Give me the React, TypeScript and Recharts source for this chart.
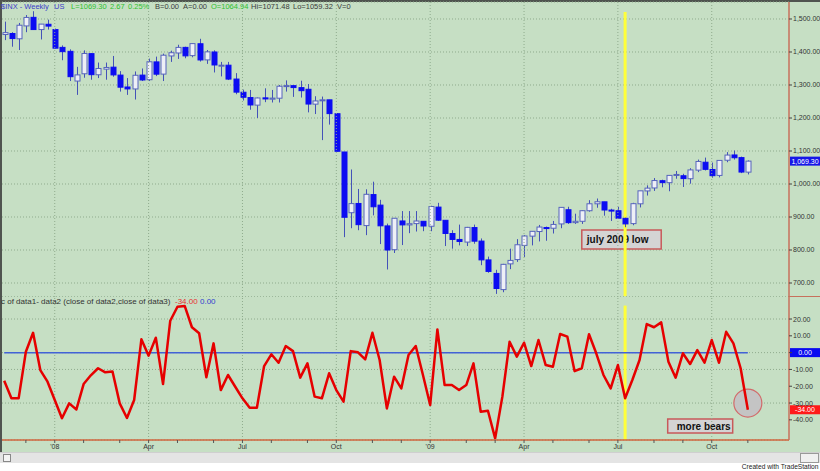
import React from "react";
import {
  ComposedChart,
  LineChart,
  Bar,
  Line,
  XAxis,
  YAxis,
  CartesianGrid,
  ReferenceLine,
  ReferenceArea,
  ReferenceDot,
} from "recharts";

const FONT = "'Liberation Sans', Arial, sans-serif";
const GREEN = "#c6dfc4";
const GRID = "#8fab8d";
const AXIS_RED = "#c7705c";
const WICK = "#4452b8";
const UP_FILL = "#eef0f6";
const UP_STROKE = "#5664bc";
const DOWN_FILL = "#0c0cf2";
const TICK = { fill: "#333", fontSize: 7, fontFamily: FONT };

// weekly bars, first one ends Fri 2007-11-16
const WEEK_START = Date.UTC(2007, 10, 16);

const OPEN = [
  1453, 1456, 1440, 1479, 1505, 1468, 1484, 1468, 1414, 1402, 1312, 1334, 1395, 1331, 1348, 1354,
  1330, 1294, 1288, 1330, 1316, 1370, 1333, 1388, 1397, 1414, 1389, 1425, 1376, 1400, 1360, 1360,
  1318, 1278, 1262, 1239, 1261, 1257, 1260, 1296, 1298, 1292, 1287, 1242, 1252, 1255, 1213, 1097,
  913, 941, 874, 968, 936, 873, 801, 888, 876, 880, 887, 872, 930, 890, 850, 832,
  824, 868, 827, 770, 729, 680, 758, 771, 814, 842, 856, 868, 866, 879, 922, 883,
  887, 919, 940, 946, 921, 919, 896, 880, 940, 979, 988, 1010, 1004, 1026, 1025, 1016,
  1042, 1066, 1044, 1026, 1072, 1088, 1080, 1036,
];
const HIGH = [
  1492, 1460, 1488, 1512, 1523.6, 1485, 1498, 1471, 1420, 1408, 1355, 1405, 1396, 1368, 1368, 1388,
  1342, 1321, 1341, 1350, 1380, 1386, 1395, 1404, 1422, 1416, 1426, 1440, 1406, 1405, 1370, 1370,
  1336, 1286, 1285, 1262, 1290, 1285, 1300, 1314, 1300, 1313, 1303, 1266, 1265, 1255, 1215, 1097,
  1044, 985, 984, 1007, 952, 880, 897, 918, 918, 918, 887, 934, 943, 890, 860, 877,
  870, 877, 835, 780, 740, 758, 804, 833, 845, 857, 876, 871, 888, 930, 931, 910,
  920, 951, 956, 946, 925, 931, 898, 943, 979, 996, 1018, 1013, 1027, 1039.5, 1031, 1048,
  1074, 1080, 1065, 1071.5, 1096.6, 1101.4, 1083, 1071.5,
];
const LOW = [
  1436, 1416, 1406, 1460, 1467, 1438, 1468, 1411, 1375, 1312, 1270, 1322, 1316, 1321, 1316, 1325,
  1280, 1270, 1256, 1312, 1312, 1327, 1312, 1370, 1379, 1381, 1384, 1371, 1364, 1338, 1326, 1315,
  1272, 1253, 1225, 1200, 1248, 1247, 1247, 1280, 1264, 1262, 1217, 1212, 1133, 1180, 1098, 839,
  866, 860, 845, 905, 818, 741, 791, 815, 851, 856, 857, 857, 888, 812, 804, 814,
  812, 819, 754, 731, 667, 672, 742, 764, 779, 814, 826, 828, 850, 866, 879, 879,
  879, 916, 928, 904, 888, 895, 869, 875, 929, 965, 979, 990, 978, 1016, 991, 1001,
  1036, 1041, 1019, 1020, 1066, 1074, 1033, 1029,
];
const CLOSE = [
  1458.7, 1440.7, 1481.1, 1504.7, 1468.0, 1484.5, 1478.5, 1411.6, 1401.0, 1325.2, 1330.6, 1395.4,
  1331.3, 1350.0, 1353.1, 1330.6, 1293.4, 1288.1, 1329.5, 1315.2, 1370.4, 1332.8, 1390.3, 1397.8,
  1413.9, 1388.3, 1425.4, 1375.9, 1400.4, 1360.7, 1360.0, 1317.9, 1278.4, 1262.9, 1239.5, 1260.7,
  1257.8, 1260.3, 1296.3, 1298.2, 1292.2, 1282.8, 1242.3, 1251.7, 1255.1, 1213.3, 1099.2, 899.2,
  940.6, 876.8, 968.8, 931.0, 873.3, 800.0, 896.2, 876.1, 879.7, 887.9, 872.8, 931.8,
  890.4, 850.1, 832.0, 825.9, 868.6, 826.8, 770.1, 735.1, 683.4, 756.6, 768.5, 815.9,
  842.5, 856.6, 869.6, 866.2, 877.5, 929.2, 882.9, 887.0, 919.1, 940.1, 946.2, 921.2,
  918.9, 896.4, 879.1, 940.4, 979.3, 987.5, 1010.5, 1004.1, 1026.1, 1028.9, 1016.4, 1042.7,
  1068.3, 1044.4, 1025.2, 1071.5, 1087.7, 1079.6, 1036.2, 1069.3,
];
// data1 - data2 oscillator
const OSC = [
  -16.7, -27.2, -27.2, 0.5, 11.8, -10.4, -17.3, -28.2, -39.1, -30.2,
  -33.8, -18.7, -13.5, -9.3, -11.7, -11.2, -30.2, -38.9, -28.2, 7.9,
  -1.8, 8.9, -18.7, 19.0, 27.3, 27.8, 15.1, 11.5, -14.7, 5.5,
  -22.3, -13.3, -20.3, -27.2, -32.8, -32.8, -8.0, -1.0, -6.0, 3.9,
  0.9, -14.9, -6.4, -26.2, -27.2, -12.3, -22.3, -29.2, 0.9, 0.2,
  -4.0, 11.8, -4.4, -33.2, -14.3, -21.3, -1.4, 3.9, -13.3, -31.2,
  13.8, -19.3, -19.3, -22.3, -19.3, -6.4, -35.2, -34.6, -51.0, -26.2,
  6.5, -2.4, 5.9, -8.0, 7.5, -7.4, -8.4, 11.1, 9.5, -11.0,
  -9.3, 10.9, -0.4, -13.3, -21.3, -7.4, -27.2, -16.3, -4.4, 17.0,
  15.1, 18.0, -5.4, -14.9, -0.4, -6.8, 1.5, -6.0, 7.5, -6.0,
  12.4, 5.5, -9.3, -34.0,
];

const PRICE_TICKS = [700, 800, 900, 1000, 1100, 1200, 1300, 1400, 1500];
const OSC_TICKS = [-40, -30, -20, -10, 0, 10, 20];
const QUARTER_NAMES: Record<number, string> = { 3: "Apr", 6: "Jul", 9: "Oct" };
const JULY_LOW = 86;

const X_DOMAIN = [-0.305, 108.7];

const weekDate = (i: number) => new Date(WEEK_START + i * 7 * 86400000);
const MONTH_STARTS = OPEN.map((_, i) => i).filter(
  (i) => i > 0 && weekDate(i).getUTCMonth() !== weekDate(i - 1).getUTCMonth()
);
const QUARTER_STARTS = MONTH_STARTS.filter((i) => weekDate(i).getUTCMonth() % 3 === 0);
const monthLabel = (i: number) => {
  const d = weekDate(i);
  const m = d.getUTCMonth();
  if (m === 0) return "'" + String(d.getUTCFullYear()).slice(2);
  return QUARTER_NAMES[m] ?? "";
};

const candles = OPEN.map((o, i) => ({
  i,
  open: o,
  high: HIGH[i],
  low: LOW[i],
  close: CLOSE[i],
  range: [LOW[i], HIGH[i]],
}));
const osc = OSC.map((v, i) => ({ i, osc: v, zero: 0 }));

const fmtPrice = (v: number) =>
  v.toLocaleString("en-US", { minimumFractionDigits: 2, maximumFractionDigits: 2 });

function Candle(props: any) {
  const { x, y, width, height, payload } = props;
  if (!payload) return null;
  const { open, close, high, low } = payload;
  const k = high > low ? height / (high - low) : 0;
  const cx = Math.round(x + width / 2) + 0.5;
  const yO = y + (high - open) * k;
  const yC = y + (high - close) * k;
  const up = close >= open;
  const top = Math.min(yO, yC);
  const h = Math.max(Math.abs(yC - yO), 1);
  return (
    <g>
      <line x1={cx} x2={cx} y1={y} y2={y + height} stroke={WICK} strokeWidth={1} />
      <rect
        x={cx - 2.5}
        y={top}
        width={5}
        height={h}
        fill={up ? UP_FILL : DOWN_FILL}
        stroke={up ? UP_STROKE : DOWN_FILL}
        strokeWidth={1}
      />
    </g>
  );
}

function Tag({ viewBox, caption, color }: any) {
  if (!viewBox) return null;
  const x = viewBox.x + viewBox.width + 1;
  const y = viewBox.y;
  return (
    <g>
      <rect x={x} y={y - 4.5} width={30} height={9} fill={color} />
      <text x={x + 15} y={y + 2.5} textAnchor="middle" fontSize={7} fill="#fff" fontFamily={FONT}>
        {caption}
      </text>
    </g>
  );
}

function BoxText({ viewBox, caption, pad }: any) {
  if (!viewBox) return null;
  return (
    <text
      x={viewBox.x + pad}
      y={viewBox.y + viewBox.height / 2 + 3.6}
      fontSize={10}
      fontWeight="bold"
      fill="#111"
      fontFamily={FONT}
    >
      {caption}
    </text>
  );
}

const span = (left: number, top: number, color: string, text: string, size = 7.5) => (
  <span
    style={{
      position: "absolute",
      left,
      top,
      color,
      fontSize: size,
      lineHeight: `${size}px`,
      fontFamily: FONT,
      whiteSpace: "nowrap",
    }}
  >
    {text}
  </span>
);

export default function App() {
  return (
    <div
      style={{
        position: "absolute",
        left: 0,
        top: 0,
        width: 820,
        height: 471,
        background: "#fff",
        overflow: "hidden",
      }}
    >
      <div style={{ position: "absolute", left: 0, top: 0, width: 820, height: 452, background: GREEN }} />
      <div style={{ position: "absolute", left: 0, top: 0, width: 820, height: 2, background: "#4f544f" }} />
      <div style={{ position: "absolute", left: 0, top: 0, width: 2, height: 452, background: "#4f544f" }} />

      <div style={{ position: "absolute", left: 0, top: 0 }}>
        <ComposedChart width={820} height={297} data={candles} margin={{ top: 2, right: 0, left: 2, bottom: 0 }}>
          <CartesianGrid vertical={false} stroke={GRID} strokeDasharray="1 2" />
          <XAxis type="number" dataKey="i" domain={X_DOMAIN} hide />
          <YAxis
            orientation="right"
            width={31}
            domain={[657.6, 1551.5]}
            ticks={PRICE_TICKS}
            tickFormatter={fmtPrice}
            tick={TICK}
            tickSize={3}
            tickMargin={1}
            tickLine={{ stroke: "#444" }}
            axisLine={{ stroke: AXIS_RED, strokeWidth: 1.5 }}
          />
          {QUARTER_STARTS.map((q) => (
            <ReferenceLine key={q} x={q} stroke={GRID} strokeDasharray="1 2" />
          ))}
          <ReferenceArea
            x1={80}
            x2={91}
            y1={803}
            y2={861}
            fill="#d4d4d4"
            fillOpacity={1}
            stroke="#c85a5a"
            strokeWidth={1.5}
            zIndex={200}
            label={<BoxText caption="july 2009 low" pad={5} />}
          />
          <ReferenceLine
            segment={[
              { x: JULY_LOW, y: 1521 },
              { x: JULY_LOW, y: 660 },
            ]}
            stroke="#ffff3a"
            strokeWidth={3}
            zIndex={250}
          />
          <Bar dataKey="range" barSize={6} shape={<Candle />} isAnimationActive={false} />
          <ReferenceLine
            y={CLOSE[CLOSE.length - 1]}
            stroke="none"
            label={<Tag caption={fmtPrice(CLOSE[CLOSE.length - 1])} color="#1616e8" />}
          />
        </ComposedChart>
      </div>

      <div style={{ position: "absolute", left: 789, top: 296, width: 31, height: 1, background: AXIS_RED }} />

      <div style={{ position: "absolute", left: 0, top: 296 }}>
        <LineChart width={820} height={160} data={osc} margin={{ top: 0, right: 0, left: 2, bottom: 0 }}>
          <CartesianGrid vertical={false} stroke={GRID} strokeDasharray="1 2" />
          <XAxis
            type="number"
            dataKey="i"
            domain={X_DOMAIN}
            ticks={MONTH_STARTS}
            interval={0}
            tickFormatter={monthLabel}
            height={16}
            tick={TICK}
            tickSize={3}
            tickMargin={1}
            tickLine={{ stroke: "#555" }}
            axisLine={{ stroke: "#d0663f", strokeWidth: 1.5 }}
          />
          <YAxis
            orientation="right"
            width={31}
            domain={[-52.0, 33.7]}
            ticks={OSC_TICKS}
            tickFormatter={(v: number) => (v === 0 ? "" : v.toFixed(2))}
            tick={TICK}
            tickSize={3}
            tickMargin={1}
            tickLine={{ stroke: "#444" }}
            axisLine={{ stroke: AXIS_RED, strokeWidth: 1.5 }}
          />
          {QUARTER_STARTS.map((q) => (
            <ReferenceLine key={q} x={q} stroke={GRID} strokeDasharray="1 2" />
          ))}
          <ReferenceArea
            x1={91.9}
            x2={100.9}
            y1={-47.9}
            y2={-39.5}
            fill="#d4d4d4"
            fillOpacity={1}
            stroke="#c85a5a"
            strokeWidth={1.5}
            label={<BoxText caption="more bears" pad={9} />}
          />
          <ReferenceLine
            segment={[
              { x: JULY_LOW, y: 28 },
              { x: JULY_LOW, y: -52 },
            ]}
            stroke="#ffff3a"
            strokeWidth={3}
            zIndex={250}
          />
          <ReferenceDot
            x={103}
            y={-30}
            r={14}
            fill="#c4c4c4"
            stroke="#d26a6a"
            strokeWidth={1.2}
            zIndex={350}
          />
          <Line
            type="linear"
            dataKey="zero"
            stroke="#4262d6"
            strokeWidth={1.5}
            dot={false}
            isAnimationActive={false}
          />
          <Line
            type="linear"
            dataKey="osc"
            stroke="#e60000"
            strokeWidth={2.5}
            strokeLinejoin="round"
            dot={false}
            isAnimationActive={false}
          />
          <ReferenceLine y={0} stroke="none" label={<Tag caption="0.00" color="#0a0af0" />} />
          <ReferenceLine
            y={OSC[OSC.length - 1]}
            stroke="none"
            label={<Tag caption={OSC[OSC.length - 1].toFixed(2)} color="#ff1a1a" />}
          />
        </LineChart>
      </div>

      {span(1, 3, "#3c3cc8", "$INX - Weekly")}
      {span(54, 3, "#3c3cc8", "US")}
      {span(71, 3, "#2fbf2f", "L=1069.30")}
      {span(110, 3, "#2fbf2f", "2.67")}
      {span(128, 3, "#2fbf2f", "0.25%")}
      {span(155, 3, "#3a3a3a", "B=0.00")}
      {span(183, 3, "#3a3a3a", "A=0.00")}
      {span(211, 3, "#2fbf2f", "O=1064.94")}
      {span(251, 3, "#3a3a3a", "Hi=1071.48")}
      {span(293, 3, "#3a3a3a", "Lo=1059.32")}
      {span(337, 3, "#3a3a3a", "V=0")}

      {span(1, 298, "#333", "c of data1- data2 (close of data2,close of data3)", 8)}
      {span(175, 298, "#e83030", "-34.00", 8)}
      {span(200, 298, "#3040d0", "0.00", 8)}

      <div style={{ position: "absolute", left: 0, top: 452, width: 820, height: 10, background: "#e4e4e4", borderTop: "1px solid #cfcfcf" }} />
      <div style={{ position: "absolute", left: 3, top: 454, width: 6, height: 6, border: "1px solid #888", background: "#f4f4f4" }} />
      <div style={{ position: "absolute", left: 800, top: 453, width: 17, height: 8, border: "1px solid #999", background: "#f0f0f0" }} />
      <div
        style={{
          position: "absolute",
          right: 2,
          top: 463,
          fontSize: 8,
          lineHeight: "8px",
          fontFamily: FONT,
          color: "#222",
          transform: "scaleX(0.83)",
          transformOrigin: "right",
          whiteSpace: "nowrap",
        }}
      >
        Created with TradeStation
      </div>
    </div>
  );
}
